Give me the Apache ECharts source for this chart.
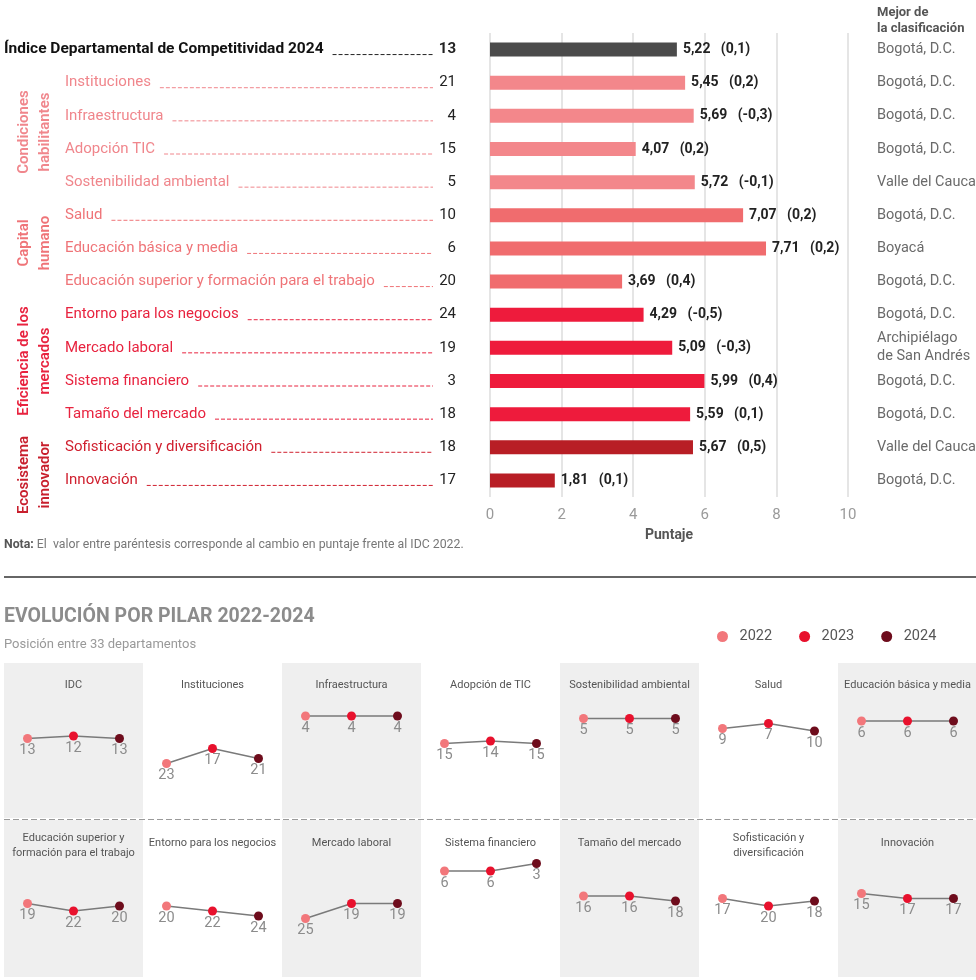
<!DOCTYPE html>
<html><head><meta charset="utf-8">
<script src="https://cdn.jsdelivr.net/npm/echarts@6/dist/echarts.min.js"></script>
<style>html,body{margin:0;padding:0;background:#fff}#c{width:976px;height:980px}</style>
</head><body><div id="c"></div>
<script>
const FONT = 'Roboto, "Noto Sans", Arial, sans-serif';

// ---------- Data: top chart ----------
const pillars = ['Índice Departamental de Competitividad 2024','Instituciones','Infraestructura','Adopción TIC','Sostenibilidad ambiental','Salud','Educación básica y media','Educación superior y formación para el trabajo','Entorno para los negocios','Mercado laboral','Sistema financiero','Tamaño del mercado','Sofisticación y diversificación','Innovación'];
const scores = [5.22,5.45,5.69,4.07,5.72,7.07,7.71,3.69,4.29,5.09,5.99,5.59,5.67,1.81];
const changes = [0.1,0.2,-0.3,0.2,-0.1,0.2,0.2,0.4,-0.5,-0.3,0.4,0.1,0.5,0.1];
const ranks2024 = [13,21,4,15,5,10,6,20,24,19,3,18,18,17];
const bestDept = ['Bogotá, D.C.','Bogotá, D.C.','Bogotá, D.C.','Bogotá, D.C.','Valle del Cauca','Bogotá, D.C.','Boyacá','Bogotá, D.C.','Bogotá, D.C.','Archipiélago\nde San Andrés','Bogotá, D.C.','Bogotá, D.C.','Valle del Cauca','Bogotá, D.C.'];
const groupOf = [0,1,1,1,1,2,2,2,3,3,3,3,4,4];
const groupNames = ['', 'Condiciones\nhabilitantes', 'Capital\nhumano', 'Eficiencia de los\nmercados', 'Ecosistema\ninnovador'];

// ---------- Data: small multiples ----------
const panelTitles = ['IDC','Instituciones','Infraestructura','Adopción de TIC','Sostenibilidad ambiental','Salud','Educación básica y media','Educación superior y\nformación para el trabajo','Entorno para los negocios','Mercado laboral','Sistema financiero','Tamaño del mercado','Sofisticación y\ndiversificación','Innovación'];
const rank2022 = [13,23,4,15,5,9,6,19,20,25,6,16,17,15];
const rank2023 = [12,17,4,14,5,7,6,22,22,19,6,16,20,17];
const rank2024 = [13,21,4,15,5,10,6,20,24,19,3,18,18,17];
const years = ['2022','2023','2024'];

// ---------- Styles ----------
const barColors = ['#4b4b4b','#f3878b','#f06c6e','#ee1b3c','#b81e25'];
const labelColors = ['#111111','#f0868c','#ef7478','#e8233f','#d0202f'];
const groupLabelColors = ['', '#f0868c', '#ef7478', '#e8233f', '#c81f2d'];
const yearColors = ['#f2777b','#e8112d','#6e0c1c'];

const ctx = document.createElement('canvas').getContext('2d');
function textW(t, font){ ctx.font = font; return ctx.measureText(t).width; }
const fmt2 = v => v.toFixed(2).replace('.', ',');
const fmt1 = v => v.toFixed(1).replace('.', ',');

const chart = echarts.init(document.getElementById('c'), null, {renderer: 'canvas'});

const grids = [], xAxes = [], yAxes = [], series = [], graphics = [];

// Grid 0: bars
grids.push({left: 490, right: 128, top: 33, bottom: 483, containLabel: false, outerBoundsMode: 'none'});
xAxes.push({type: 'value', gridIndex: 0, min: 0, max: 10, interval: 2,
  axisLine: {show: false}, axisTick: {show: false},
  splitLine: {show: true, lineStyle: {color: '#dcdcdc', width: 1.5}},
  axisLabel: {color: '#9a9a9a', fontSize: 15, margin: 11, fontFamily: FONT},
  name: 'Puntaje', nameLocation: 'middle', nameGap: 31,
  nameTextStyle: {fontWeight: 'bold', color: '#555', fontSize: 14, fontFamily: FONT}});
yAxes.push({type: 'category', gridIndex: 0, data: pillars, inverse: true,
  axisLine: {show: false}, axisTick: {show: false}, axisLabel: {show: false}});
yAxes.push({type: 'category', gridIndex: 0, data: bestDept, inverse: true, position: 'right',
  axisLine: {show: false}, axisTick: {show: false},
  axisLabel: {show: true, align: 'left', margin: 29, color: '#6a6a6a', fontSize: 14.5, lineHeight: 18, fontFamily: FONT}});
series.push({type: 'bar', xAxisIndex: 0, yAxisIndex: 0, barWidth: 14,
  data: scores.map((v, i) => ({value: v, itemStyle: {color: barColors[groupOf[i]]}})),
  label: {show: true, position: 'right', distance: 6, color: '#222', fontWeight: 'bold', fontSize: 14, fontFamily: FONT,
    formatter: p => fmt2(scores[p.dataIndex]) + '   (' + fmt1(changes[p.dataIndex]) + ')'}});

// Grid 1: left labels with dashed leaders
grids.push({left: 0, width: 470, top: 33, bottom: 483, containLabel: false, outerBoundsMode: 'none'});
xAxes.push({type: 'value', gridIndex: 1, min: 0, max: 1, show: false});
yAxes.push({type: 'category', gridIndex: 1, data: pillars, inverse: true, show: false});
series.push({type: 'custom', xAxisIndex: 1, yAxisIndex: 2,
  data: pillars.map((_, i) => [0, i]),
  renderItem: function(params, api){
    const i = api.value(1);
    const y = api.coord([0, i])[1];
    const g = groupOf[i];
    const isIdx = g === 0;
    const font = isIdx ? ('bold 15.5px ' + FONT) : ('15px ' + FONT);
    const x0 = isIdx ? 4 : 65;
    const w = textW(pillars[i], font);
    const col = labelColors[g];
    return {type: 'group', children: [
      {type: 'text', x: x0, y: y, style: {text: pillars[i], font: font, fill: col, align: 'left', verticalAlign: 'middle'}},
      {type: 'line', shape: {x1: x0 + w + 9, y1: y + 5, x2: 433, y2: y + 5},
        style: {stroke: isIdx ? '#222' : col, lineWidth: 1, lineDash: [4, 2]}},
      {type: 'text', x: 456, y: y, style: {text: String(ranks2024[i]), font: (isIdx ? 'bold ' : '') + '15px ' + FONT, fill: '#222', align: 'right', verticalAlign: 'middle'}}
    ]};
  }});

// Group vertical labels
const groupCenters = [0, 132, 243, 361, 475];
for (let g = 1; g <= 4; g++) {
  graphics.push({type: 'text', x: 35, y: groupCenters[g], rotation: Math.PI / 2,
    style: {text: groupNames[g], font: '600 15px ' + FONT, fill: groupLabelColors[g], align: 'center', verticalAlign: 'middle', lineHeight: 21}});
}

// Static texts
graphics.push({type: 'text', x: 877, y: 13, style: {text: 'Mejor de', font: 'bold 13px ' + FONT, fill: '#555', verticalAlign: 'middle'}});
graphics.push({type: 'text', x: 877, y: 29, style: {text: 'la clasificación', font: 'bold 13px ' + FONT, fill: '#555', verticalAlign: 'middle'}});
graphics.push({type: 'text', x: 4, y: 545, style: {text: '{b|Nota:} El  valor entre paréntesis corresponde al cambio en puntaje frente al IDC 2022.',
  font: '12.3px ' + FONT, fill: '#777', verticalAlign: 'middle', rich: {b: {fontWeight: 'bold', fill: '#555', fontSize: 12.3, fontFamily: FONT}}}});
graphics.push({type: 'line', shape: {x1: 4, y1: 577, x2: 976, y2: 577}, style: {stroke: '#666', lineWidth: 2}});
graphics.push({type: 'text', x: 4, y: 617, style: {text: 'EVOLUCIÓN POR PILAR 2022-2024', font: 'bold 19.5px ' + FONT, fill: '#8c8c8c', verticalAlign: 'middle'}});
graphics.push({type: 'text', x: 4, y: 645, style: {text: 'Posición entre 33 departamentos', font: '13px ' + FONT, fill: '#999', verticalAlign: 'middle'}});

// Small multiples
const colW = 139, colX0 = 4;
const rowTop = [663, 820], rowH = [155, 157];
const rowYMin = [-17.2, -14.4], rowYMax = [44.8, 48.4];
for (let k = 0; k < 14; k++) {
  const row = Math.floor(k / 7), col = k % 7;
  const left = colX0 + col * colW;
  const gi = grids.length;
  grids.push({left: left, width: colW, top: rowTop[row], height: rowH[row], containLabel: false, outerBoundsMode: 'none',
    show: col % 2 === 0, backgroundColor: '#efefef', borderWidth: 0});
  const xi = xAxes.length, yi = yAxes.length;
  xAxes.push({type: 'value', gridIndex: gi, min: -0.511, max: 2.511, show: false});
  yAxes.push({type: 'value', gridIndex: gi, min: rowYMin[row], max: rowYMax[row], inverse: true, show: false});
  const r = [rank2022[k], rank2023[k], rank2024[k]];
  series.push({type: 'line', xAxisIndex: xi, yAxisIndex: yi, symbol: 'none', silent: true, z: 2,
    lineStyle: {color: '#7a7a7a', width: 1.5}, data: r.map((v, j) => [j, v])});
  years.forEach((yr, j) => {
    series.push({type: 'scatter', name: yr, xAxisIndex: xi, yAxisIndex: yi, symbolSize: 9, z: 3,
      itemStyle: {color: yearColors[j], opacity: 1}, data: [[j, r[j]]],
      label: {show: true, position: 'bottom', distance: 0, color: '#8c8c8c', fontSize: 14.5, fontFamily: FONT,
        formatter: p => String(p.value[1])}});
  });
  const title = panelTitles[k];
  const twoLine = title.indexOf('\n') >= 0;
  const ty = row === 0 ? 685 : (twoLine ? 845.5 : 843);
  graphics.push({type: 'text', x: left + colW / 2, y: ty, z: 10,
    style: {text: title, font: '11px ' + FONT, fill: '#555', align: 'center', verticalAlign: 'middle', lineHeight: 15}});
}
graphics.push({type: 'line', z: 10, shape: {x1: 4, y1: 819.5, x2: 976, y2: 819.5}, style: {stroke: '#9a9a9a', lineWidth: 1, lineDash: [6, 3]}});

chart.setOption({
  animation: false,
  textStyle: {fontFamily: FONT},
  grid: grids, xAxis: xAxes, yAxis: yAxes, series: series,
  legend: {data: years, left: 712, top: 624, icon: 'circle', itemWidth: 24, itemHeight: 11, itemGap: 27,
    itemStyle: {opacity: 1},
    textStyle: {color: '#555', fontSize: 14.5, fontFamily: FONT}, selectedMode: false},
  graphic: graphics
});
</script></body></html>
